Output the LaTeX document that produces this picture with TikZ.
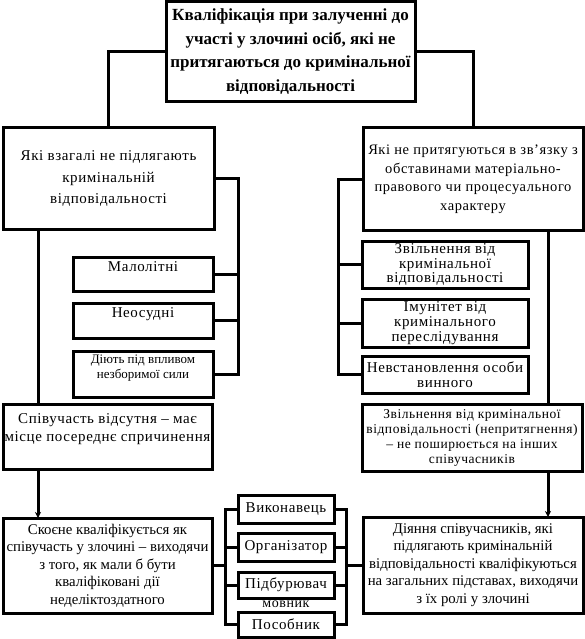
\documentclass[tikz,border=0pt]{standalone}
\usepackage{fontspec}
\setmainfont{Liberation Serif}
\newfontfamily\wide[LetterSpace=4]{Liberation Serif}
\usetikzlibrary{arrows.meta}

\begin{document}
\begin{tikzpicture}[x=1pt,y=-1pt,line width=3pt,
  box/.style={draw,align=center,inner sep=1pt,outer sep=0pt,fill=white},
  >={Stealth[length=6pt,width=6pt]}]
\useasboundingbox (0,0) rectangle (585,639);
\node[box,minimum width=249pt,minimum height=100pt,font=\bfseries\fontsize{17}{23.5}\selectfont] (top) at (290.5,51.5) {Кваліфікація при залученні до\\участі у злочині осіб, які не\\притягаються до кримінальної\\відповідальності};
\node[box,minimum width=211pt,minimum height=101pt,font=\wide\fontsize{15}{21.5}\selectfont] (l1) at (108.5,178.5) {Які взагалі не підлягають\\кримінальній\\відповідальності};
\node[box,minimum width=220pt,minimum height=102pt,font=\wide\fontsize{14.5}{18.5}\selectfont] (r1) at (473,179) {Які не притягуються в зв’язку з\\обставинами матеріально-\\правового чи процесуального\\характеру};
\node[box,minimum width=140pt,minimum height=34pt,font=\wide\fontsize{15}{15}\selectfont] (lm) at (143,274) {Малолітні\\~};
\node[box,minimum width=140pt,minimum height=35pt,font=\wide\fontsize{15}{15}\selectfont] (ln) at (143,320.5) {Неосудні\\~};
\node[box,minimum width=140pt,minimum height=46pt,font=\fontsize{13}{15}\selectfont] (ld) at (143,374) {Діють під впливом\\незборимої сили\\~};
\node[box,minimum width=166pt,minimum height=47pt,font=\wide\fontsize{15}{14.5}\selectfont] (rz) at (445,264.5) {Звільнення від\\кримінальної\\відповідальності};
\node[box,minimum width=166pt,minimum height=48pt,font=\wide\fontsize{15}{15}\selectfont] (ri) at (445,323) {Імунітет від\\кримінального\\переслідування};
\node[box,minimum width=166pt,minimum height=37pt,font=\wide\fontsize{15}{15}\selectfont] (rn) at (445,374.5) {Невстановлення особи\\винного};
\node[box,minimum width=209pt,minimum height=65pt,font=\wide\fontsize{15}{18}\selectfont] (l2) at (107.5,436.5) {Співучасть відсутня – має\\місце посереднє спричинення\\~};
\node[box,minimum width=220pt,minimum height=67pt,font=\wide\fontsize{13.5}{15}\selectfont] (r2) at (472,437.5) {Звільнення від кримінальної\\відповідальності (непритягнення)\\– не поширюється на інших\\співучасників};
\node[box,minimum width=209pt,minimum height=95pt,font=\fontsize{14.8}{17.5}\selectfont] (l3) at (107.5,565.5) {Скоєне кваліфікується як\\співучасть у злочині – виходячи\\з того, як мали б бути\\кваліфіковані дії\\неделіктоздатного};
\node[box,minimum width=220pt,minimum height=96pt,font=\fontsize{14.8}{17.5}\selectfont] (r3) at (473,565) {Діяння співучасників, які\\підлягають кримінальній\\відповідальності кваліфікуються\\на загальних підставах, виходячи\\з їх ролі у злочині};
\node[box,minimum width=96pt,minimum height=28pt,font=\wide\fontsize{15}{15}\selectfont] (mv) at (286,509) {Виконавець};
\node[box,minimum width=96pt,minimum height=28pt,font=\wide\fontsize{15}{15}\selectfont] (mo) at (286,547) {Організатор};
\node[box,minimum width=96pt,minimum height=26pt,font=\wide\fontsize{15}{15}\selectfont] (mp) at (286,585) {Підбурювач};
\node[inner sep=0pt,font=\wide\fontsize{14}{14}\selectfont] (mx) at (286,604) {мовник};
\node[box,minimum width=96pt,minimum height=25pt,font=\wide\fontsize{15}{15}\selectfont] (mb) at (286,624.5) {Пособник};
% connectors
\coordinate (lb) at (238,0);
\coordinate (rb) at (338,0);
\coordinate (lv) at (38,0);
\coordinate (rv) at (548,0);
\coordinate (mlb) at (225,0);
\coordinate (mrb) at (346,0);
\draw (top.west) -| (l1.north);
\draw (top.east) -| (r1.north);
\draw (l1.east) -| (lb |- ld.east) -- (ld.east);
\draw (lm.east) -- (lm.east -| lb);
\draw (ln.east) -- (ln.east -| lb);
\draw (r1.west) -| (rb |- rn.west) -- (rn.west);
\draw (rz.west) -- (rz.west -| rb);
\draw (ri.west) -- (ri.west -| rb);
\draw (lv |- l1.south) -- (lv |- l2.north);
\draw[->] (lv |- l2.south) -- (lv |- l3.north);
\draw (rv |- r1.south) -- (rv |- r2.north);
\draw[->] (rv |- r2.south) -- (rv |- r3.north);
\draw (mv.west) -| (mlb |- mb.west) -- (mb.west);
\draw (mo.west) -- (mo.west -| mlb);
\draw (mp.west) -- (mp.west -| mlb);
\draw (l3.east) -- (l3.east -| mlb);
\draw (mv.east) -| (mrb |- mb.east) -- (mb.east);
\draw (mo.east) -- (mo.east -| mrb);
\draw (mp.east) -- (mp.east -| mrb);
\draw (r3.west) -- (r3.west -| mrb);
\end{tikzpicture}
\end{document}
